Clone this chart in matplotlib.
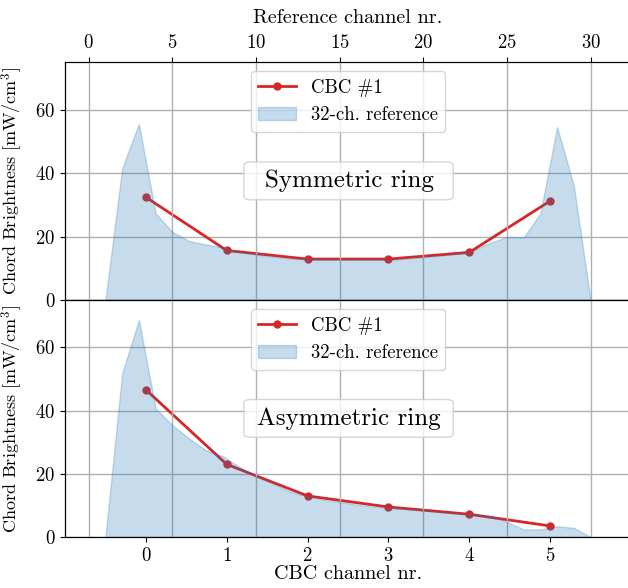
import numpy as np
import matplotlib
matplotlib.use("Agg")
import matplotlib.pyplot as plt
from matplotlib.patches import FancyBboxPatch

plt.rcParams['font.family'] = 'serif'
plt.rcParams['font.serif'] = ['cmr10']
plt.rcParams['mathtext.fontset'] = 'cm'
plt.rcParams['axes.formatter.use_mathtext'] = True

# ---- data ----
cbc_channels = [0, 1, 2, 3, 4, 5]
cbc_sym = [32.4, 15.6, 12.9, 12.9, 15.0, 31.2]
cbc_asym = [46.6, 23.0, 13.0, 9.5, 7.2, 3.5]

ref_channels = [1, 2, 3, 4, 5, 6, 7, 8, 9, 10, 11, 12, 13, 14, 15,
                16, 17, 18, 19, 20, 21, 22, 23, 24, 25, 26, 27, 28, 29, 30]
ref_sym = [0.0, 41.5, 55.5, 27.3, 21.5, 18.6, 17.5, 16.6, 15.2, 14.4, 13.6, 13.1,
           12.9, 12.8, 12.8, 12.8, 12.8, 12.7, 13.0, 13.5, 14.0, 14.6, 15.7, 18.0,
           19.9, 19.7, 27.3, 54.5, 36.0, 0.0]
ref_asym = [0.0, 51.8, 68.7, 40.7, 35.4, 31.2, 27.5, 25.6, 22.2, 19.2, 16.9, 14.5,
            12.9, 11.9, 11.1, 10.3, 9.6, 9.2, 8.8, 8.4, 7.9, 7.4, 7.1, 6.7,
            4.8, 2.4, 2.4, 3.4, 2.9, 0.0]

ref_ticks = [0, 5, 10, 15, 20, 25, 30]
yticks = [0, 20, 40, 60]

xlim_cbc = (-1.0, 6.0)
def c2r(c):
    return 1 + (c + 0.5) * 29 / 6
xlim_ref = (c2r(xlim_cbc[0]), c2r(xlim_cbc[1]))

W, H = 628, 588
fig = plt.figure(figsize=(W / 100, H / 100), dpi=100)
left = 65 / W
width = (631 - 65) / W
ax1 = fig.add_axes([left, (H - 300) / H, width, 238 / H])
ax2 = fig.add_axes([left, (H - 537) / H, width, 237 / H])

red = '#d62728'
blue = '#1f77b4'
ylabel = r'Chord Brightness [mW/cm$^3$]'
LBL = 14.5
TCK = 13.5

panels = [(ax1, cbc_sym, ref_sym, 'Symmetric ring', True),
          (ax2, cbc_asym, ref_asym, 'Asymmetric ring', False)]

for ax, cbc, ref, title, top in panels:
    ax.set_xlim(*xlim_cbc)
    ax.set_ylim(0, 75)
    ax.set_yticks(yticks)
    l1, = ax.plot(cbc_channels, cbc, '-o', color=red, lw=2, ms=5, label='CBC #1')
    ax.yaxis.grid(True, color='#b0b0b0', lw=1)
    ax.set_axisbelow(True)
    ax.set_ylabel(ylabel, fontsize=13)
    ax.tick_params(labelsize=TCK, direction='out')
    if top:
        ax.tick_params(axis='x', bottom=False, labelbottom=False)
    else:
        ax.set_xticks(cbc_channels)
        ax.set_xlabel('CBC channel nr.', fontsize=LBL, labelpad=0)
    axt = ax.twiny()
    axt.set_xlim(*xlim_ref)
    axt.set_ylim(0, 75)
    f = axt.fill_between(ref_channels, ref, color=blue, alpha=0.25, label='32-ch. reference')
    axt.set_xticks(ref_ticks)
    axt.xaxis.grid(True, color='#b0b0b0', lw=1)
    axt.set_axisbelow(True)
    axt.tick_params(labelsize=TCK, direction='out')
    if top:
        axt.set_xlabel('Reference channel nr.', fontsize=LBL, labelpad=8)
    else:
        axt.tick_params(axis='x', top=False, labeltop=False)
    axt.legend([l1, f], ['CBC #1', '32-ch. reference'], loc='upper center',
               fontsize=13.5, framealpha=0.8, borderaxespad=0.5)
    box = FancyBboxPatch((0.316, 0.421), 0.37, 0.159, transform=axt.transAxes,
                         boxstyle='round,pad=0,rounding_size=0.012',
                         fc='white', ec='#cccccc', alpha=0.8, lw=1, zorder=6,
                         mutation_aspect=0.159 / 0.37 * 3)
    axt.add_patch(box)
    axt.text(0.502, 0.5, title, transform=axt.transAxes, ha='center', va='center',
             fontsize=18, zorder=7)

for ax in (ax1, ax2):
    ax.yaxis.set_label_coords(-0.07, 0.5)

fig.savefig('out.png', dpi=100)
